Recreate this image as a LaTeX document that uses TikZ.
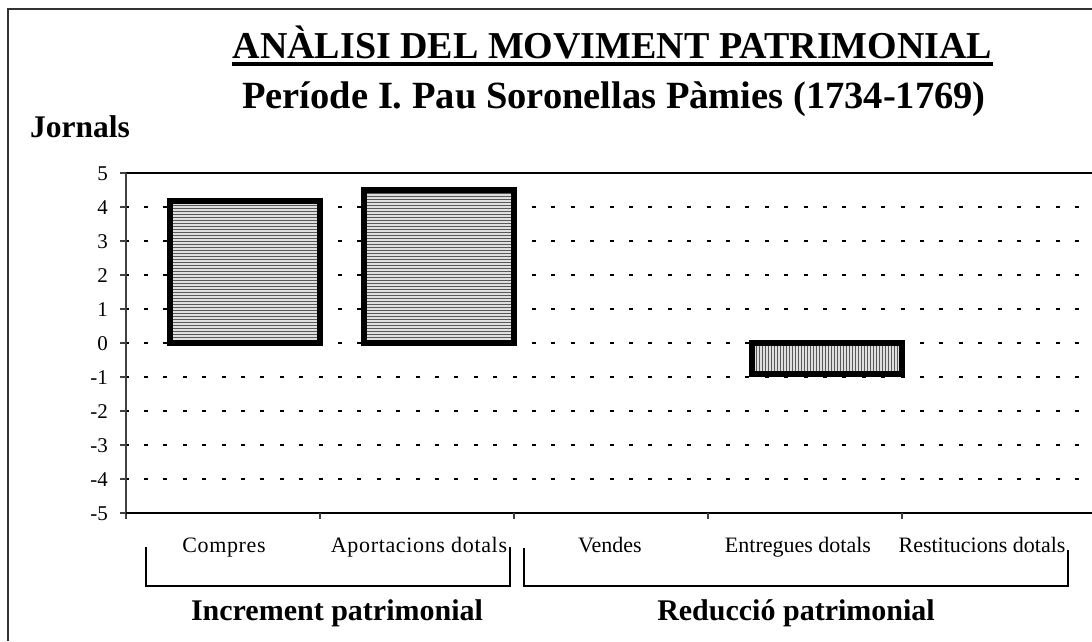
\documentclass[tikz,border=0pt]{standalone}
\usepackage{fontspec}
\setmainfont{Liberation Serif}
\usetikzlibrary{patterns}
\begin{document}
\begin{tikzpicture}[x=1pt,y=-1pt,
  grid/.style={line width=1.3pt, dash pattern=on 4pt off 15.4pt, dash phase=1.4pt},
  axisline/.style={line width=1.6pt, black!75},
  barbox/.style={draw=black, line width=6pt},
  hbar/.style={preaction={fill=gray!25}, pattern=horizontal lines, pattern color=gray!70!black},
  vbar/.style={preaction={fill=gray!25}, pattern=vertical lines, pattern color=gray!70!black},
  ticklab/.style={anchor=base east, font=\fontsize{21}{23}\selectfont, inner sep=0pt},
  catlab/.style={anchor=base, font=\addfontfeature{LetterSpace=3}\fontsize{22}{24}\selectfont, inner sep=0pt},
  catlabn/.style={anchor=base, font=\fontsize{22}{24}\selectfont, inner sep=0pt},
  grouplab/.style={anchor=base, font=\bfseries\fontsize{30}{33}\selectfont, inner sep=0pt},
  bracket/.style={line width=2pt, black}
]
\useasboundingbox (0,0) rectangle (1092,641);
\fill[white] (0,0) rectangle (1092,641);
% frame
\draw[line width=1.6pt, black!80] (8,641) -- (8,9) -- (1092,9);
% titles
\node[anchor=base, inner sep=0pt, font=\bfseries\fontsize{38}{41}\selectfont] (title) at (612.5,58) {ANÀLISI DEL MOVIMENT PATRIMONIAL};
\draw[line width=4pt] ([yshift=-6pt]title.base west) -- ([yshift=-6pt]title.base east);
\node[anchor=base, inner sep=0pt, font=\bfseries\fontsize{38.5}{41}\selectfont] (subtitle) at (614,108) {Període I. Pau Soronellas Pàmies (1734-1769)};
\node[anchor=base west, inner sep=0pt, font=\bfseries\fontsize{31.5}{34}\selectfont] (jornals) at (30,137) {Jornals};
% gridlines
\foreach \v in {-4,...,4} {
  \draw[grid] (126,{343-34*\v}) -- (1092,{343-34*\v});
}
\draw[line width=1.5pt] (126,173) -- (1092,173);
% bars
\draw[barbox, hbar] (170,343) rectangle (320,201);
\draw[barbox, hbar] (364,343) rectangle (514,190);
\draw[vbar, draw=none] (752,343) rectangle (902,374);
\draw[barbox] (752,343) rectangle (902,374);
% y axis
\draw[axisline] (126,173) -- (126,519);
\foreach \v in {-5,...,5} {
  \draw[axisline] (120,{343-34*\v}) -- (126,{343-34*\v});
  \node[ticklab] at (108,{350-34*\v}) {\v};
}
% x axis
\draw[line width=1.6pt] (126,513) -- (1092,513);
\foreach \x in {320,514,708,902} {
  \draw[axisline] (\x,513) -- (\x,519);
}
% category labels
\node[catlab] (c1) at (224,552) {Compres};
\node[catlab] (c2) at (419,552) {Aportacions dotals};
\node[catlabn] (c3) at (610,552) {Vendes};
\node[catlabn] (c4) at (798,552) {Entregues dotals};
\node[catlabn] (c5) at (982,552) {Restitucions dotals};
% brackets
\coordinate (b1a) at (146,547);
\coordinate (b1b) at (510,547);
\coordinate (b2a) at (524,548);
\coordinate (b2b) at (1068,550);
\draw[bracket] (b1a) |- (b1b |- 0,586) -- (b1b);
\draw[bracket] (b2a) |- (b2b |- 0,586) -- (b2b);
% group labels
\node[grouplab] (g1) at (337,620) {Increment patrimonial};
\node[grouplab] (g2) at (796,620) {Reducció patrimonial};
\end{tikzpicture}
\end{document}
